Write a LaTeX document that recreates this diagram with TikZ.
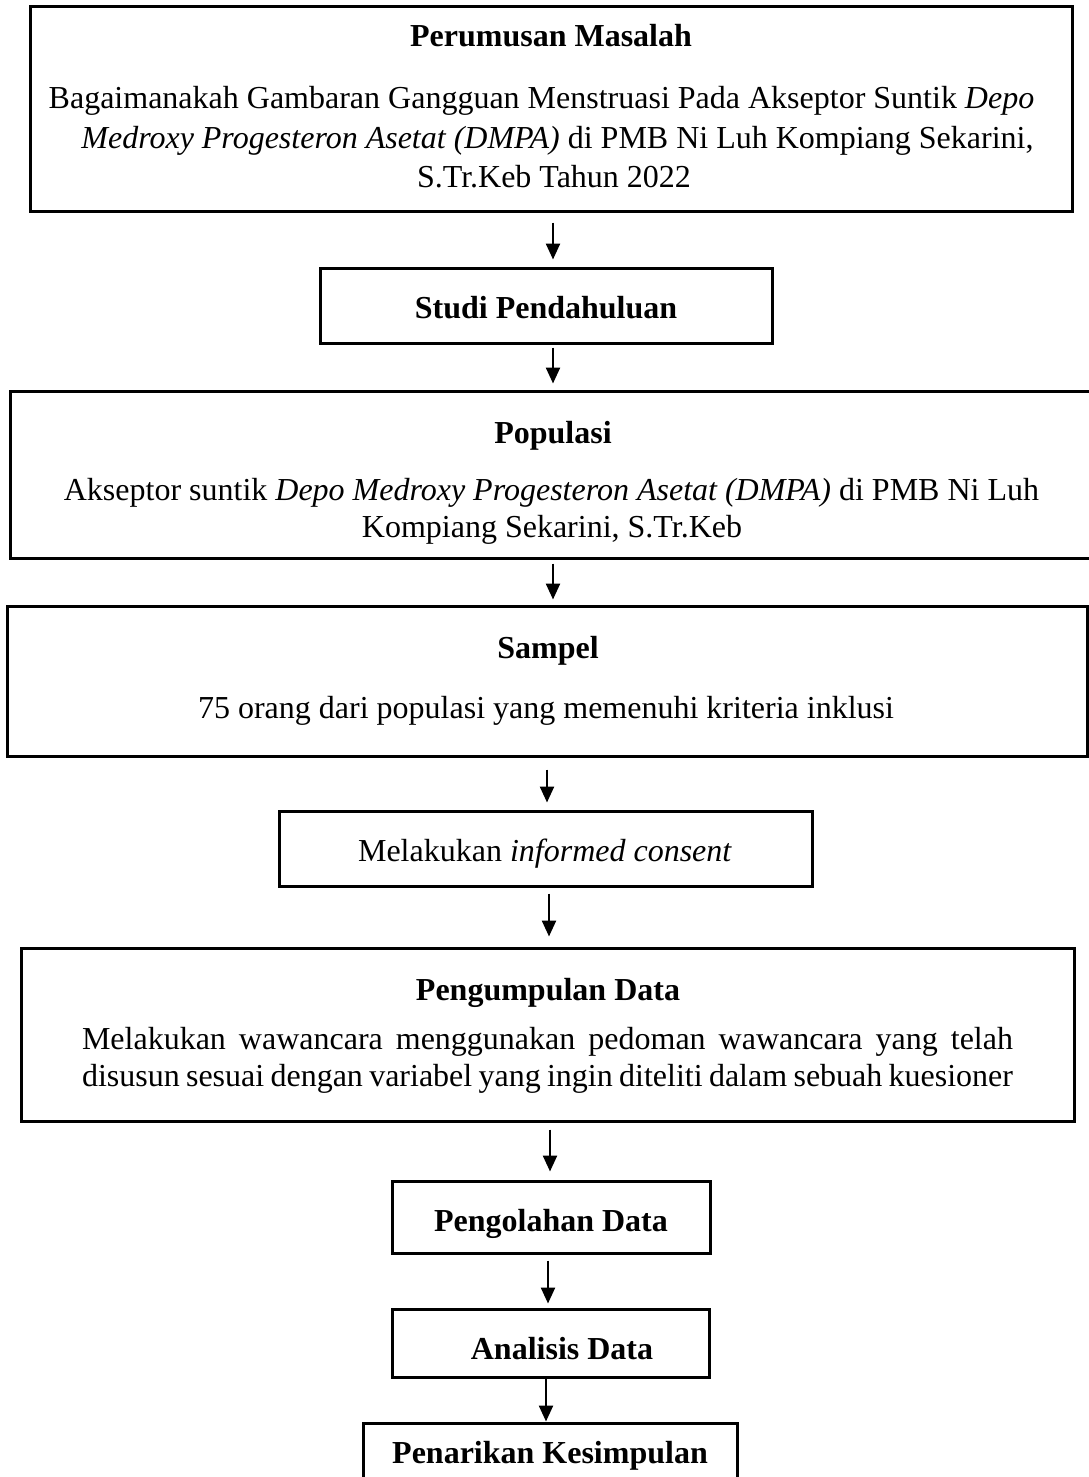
\documentclass[tikz,border=0pt]{standalone}
\usepackage{fontspec}
\setmainfont{Liberation Serif}
\usetikzlibrary{arrows.meta}
\begin{document}
\begin{tikzpicture}[x=1pt,y=-1pt,
  box/.style={draw, line width=3pt, inner sep=0pt},
  arr/.style={line width=2.4pt, -{Triangle[length=16pt,width=14pt]}},
  txt/.style={inner sep=0pt, anchor=base, font=\fontsize{32}{38}\selectfont},
  ttl/.style={inner sep=0pt, anchor=base, font=\fontsize{32}{38}\selectfont\bfseries}]
\useasboundingbox (0,0) rectangle (1089,1477);
\fill[white] (0,0) rectangle (1089,1477);
\clip (0,0) rectangle (1089,1477);

% boxes
\node[box, minimum width=1042pt, minimum height=204pt] (b1) at (551,109) {};
\node[box, minimum width=452pt, minimum height=75pt] (b2) at (546,305.5) {};
\node[box, minimum width=1085pt, minimum height=167pt] (b3) at (552.5,474.5) {};
\node[box, minimum width=1080pt, minimum height=150pt] (b4) at (547,681) {};
\node[box, minimum width=533pt, minimum height=75pt] (b5) at (545.5,848.5) {};
\node[box, minimum width=1053pt, minimum height=173pt] (b6) at (547.5,1034.5) {};
\node[box, minimum width=318pt, minimum height=72pt] (b7) at (551,1217) {};
\node[box, minimum width=317pt, minimum height=68pt] (b8) at (550.5,1343) {};
\node[box, minimum width=374pt, minimum height=67pt] (b9) at (550,1456.5) {};

% texts
\node[ttl] (t1) at (551,47) {Perumusan Masalah};
\node[txt] (t1a) at (541.5,109) {Bagaimanakah Gambaran Gangguan Menstruasi Pada Akseptor Suntik \textit{Depo}};
\node[txt] (t1b) at (557.5,148) {\textit{Medroxy Progesteron Asetat (DMPA)} di PMB Ni Luh Kompiang Sekarini,};
\node[txt] (t1c) at (554,187) {S.Tr.Keb Tahun 2022};

\node[ttl] (t2) at (546,318) {Studi Pendahuluan};

\node[ttl] (t3) at (553,443) {Populasi};
\node[txt] (t3a) at (551.5,500) {Akseptor suntik \textit{Depo Medroxy Progesteron Asetat (DMPA)} di PMB Ni Luh};
\node[txt] (t3b) at (552,537) {Kompiang Sekarini, S.Tr.Keb};

\node[ttl] (t4) at (548,658) {Sampel};
\node[txt] (t4a) at (546,718) {75 orang dari populasi yang memenuhi kriteria inklusi};

\node[txt] (t5) at (545,861) {Melakukan \textit{informed consent}};

\node[ttl] (t6) at (548,1000) {Pengumpulan Data};
\node[txt] (t6a) at (547.5,1049) {\makebox[931pt][s]{Melakukan wawancara menggunakan pedoman wawancara yang telah}};
\node[txt] (t6b) at (547.5,1086) {\makebox[931pt][s]{disusun sesuai dengan variabel yang ingin diteliti dalam sebuah kuesioner}};

\node[ttl] (t7) at (551,1231) {Pengolahan Data};
\node[ttl] (t8) at (562,1359) {Analisis Data};
\node[ttl] (t9) at (550,1463) {Penarikan Kesimpulan};

% arrows
\draw[arr, shorten <=10pt, shorten >=7pt] ([xshift=2pt]b1.south) -- ([xshift=7pt]b2.north);
\draw[arr, shorten <=3pt, shorten >=6pt] ([xshift=7pt]b2.south) -- ([xshift=0.5pt]b3.north);
\draw[arr, shorten <=4pt, shorten >=5pt] ([xshift=0.5pt]b3.south) -- ([xshift=6pt]b4.north);
\draw[arr, shorten <=12pt, shorten >=7pt] (b4.south) -- ([xshift=1.5pt]b5.north);
\draw[arr, shorten <=6pt, shorten >=10pt] ([xshift=3.5pt]b5.south) -- ([xshift=1.5pt]b6.north);
\draw[arr, shorten <=7pt, shorten >=8pt] ([xshift=2.5pt]b6.south) -- ([xshift=-1pt]b7.north);
\draw[arr, shorten <=6pt, shorten >=4pt] ([xshift=-3pt]b7.south) -- ([xshift=-2.5pt]b8.north);
\draw[arr] ([xshift=-4.5pt]b8.south) -- ([xshift=-4pt]b9.north);
\end{tikzpicture}
\end{document}
